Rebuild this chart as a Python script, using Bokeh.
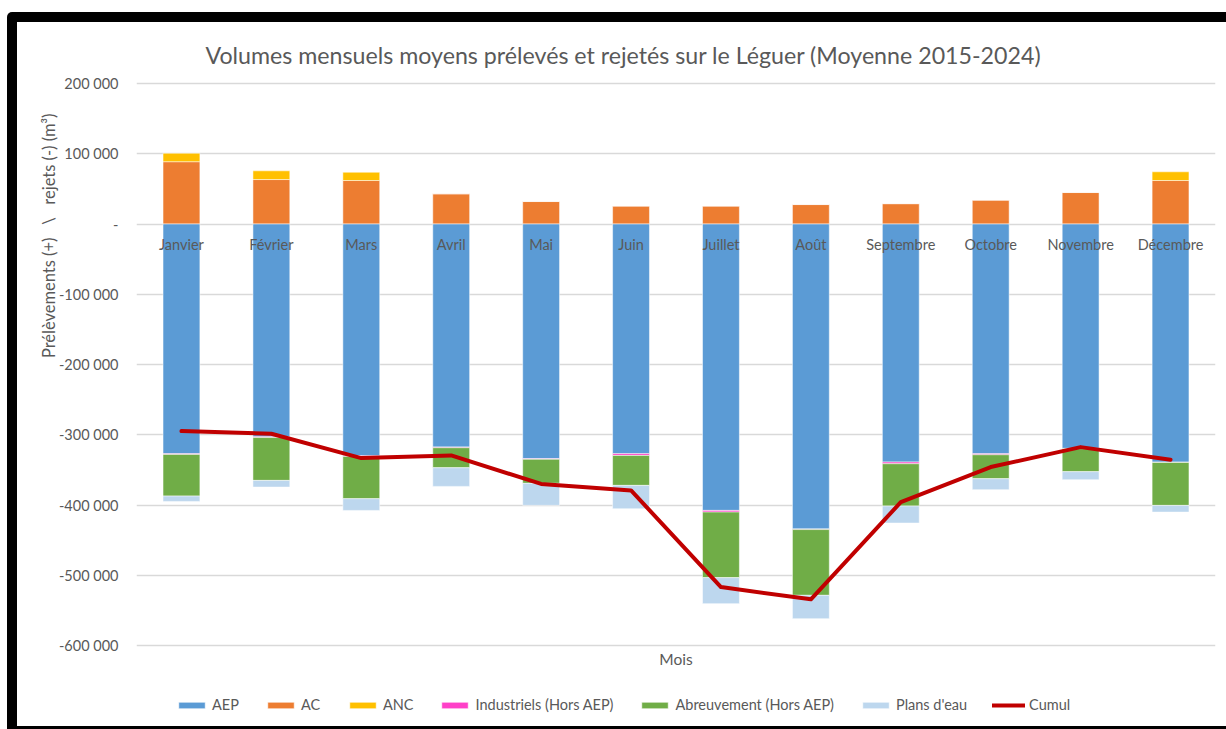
from bokeh.plotting import figure
from bokeh.models import (Range1d, Legend, LegendItem, Title, FixedTicker,
                          ColumnDataSource, Div, Label)
from bokeh.layouts import row, column
from bokeh.core.properties import value
from bokeh.embed import file_html
from bokeh.resources import INLINE

# ---------------- data (m3, mean 2015-2024) ----------------
months = ["Janvier", "Février", "Mars", "Avril", "Mai", "Juin", "Juillet",
          "Août", "Septembre", "Octobre", "Novembre", "Décembre"]
aep = [-327000, -303000, -330000, -317500, -334000, -327000, -407700,
       -434000, -338900, -327000, -319400, -339000]
ac = [88700, 63300, 61900, 43000, 32000, 25600, 25600, 27700, 29000,
      34000, 44800, 61900]
anc = [12000, 12400, 11800, 0, 0, 0, 0, 0, 0, 0, 0, 12400]
industriels = [-1000, -1000, -800, -1000, -1000, -2500, -2400, -1000,
               -2400, -1500, -500, -500]
abreuvement = [-59300, -61000, -60300, -28500, -34200, -42600, -93300,
               -93600, -60200, -34100, -32700, -61100]
plans_eau = [-7600, -9500, -16600, -26500, -31300, -33200, -37000, -33200,
             -24200, -15600, -11400, -9500]
cumul = [-294800, -298600, -333200, -329400, -370000, -379200, -516800,
         -534300, -396000, -346000, -317600, -335600]

y_ticks = [-600000, -500000, -400000, -300000, -200000, -100000, 0,
           100000, 200000]
y_tick_labels = ["-600 000", "-500 000", "-400 000", "-300 000", "-200 000",
                 "-100 000", "-", "100 000", "200 000"]

TITLE = "Volumes mensuels moyens prélevés et rejetés sur le Léguer  (Moyenne 2015-2024)"
Y_TITLE = "Prélèvements (+)\u00a0\u00a0\u00a0\\\u00a0\u00a0\u00a0rejets (-) (m³)"
X_TITLE = "Mois"

FONT = "Lato"
GREY = "#595959"

# ---------------- layout geometry (page pixels) ----------------
PAD_X, PAD_Y = 7, 12        # white gap before the black frame
BORDER, BORDER_B = 10, 3    # black frame thickness (left/top, bottom)
W = 1226 - PAD_X - BORDER   # canvas size
H = 729 - PAD_Y - BORDER - BORDER_B
CANVAS_TOP = PAD_Y + BORDER
LEFT, RIGHT = 119, 11       # plot area left / right margins
AXIS_TOP_PX, AXIS_BOTTOM_PX = 83, 645   # rows of 200 000 and -600 000
ypp = (y_ticks[-1] - y_ticks[0]) / (AXIS_BOTTOM_PX - AXIS_TOP_PX)


def y_at(px):
    """data value drawn at page pixel row px"""
    return y_ticks[-1] - (px - AXIS_TOP_PX) * ypp


# the plotting area spans the full canvas height
y_max = y_at(CANVAS_TOP)
y_min = y_at(CANVAS_TOP + H)

src = ColumnDataSource(dict(month=months, AEP=aep, AC=ac, ANC=anc,
                            IND=industriels, ABR=abreuvement, PLA=plans_eau,
                            CUM=cumul))

p = figure(x_range=months, y_range=Range1d(y_min, y_max),
           width=W, height=H, output_backend="svg",
           toolbar_location=None, x_axis_location=None,
           min_border_left=LEFT, min_border_right=RIGHT,
           min_border_top=0, min_border_bottom=0)
p.outline_line_color = None
p.background_fill_color = "white"
p.border_fill_color = "white"
p.margin = 0

pos = p.vbar_stack(["AC", "ANC"], x="month", width=0.41, source=src,
                   color=["#ED7D31", "#FFC000"], line_color="white",
                   line_alpha=0.5, line_width=1)
neg = p.vbar_stack(["AEP", "IND", "ABR", "PLA"], x="month", width=0.41,
                   source=src,
                   color=["#5B9BD5", "#FF40C8", "#70AD47", "#BDD7EE"],
                   line_color="white", line_alpha=0.5, line_width=1)
line = p.line(x="month", y="CUM", source=src, line_color="#C00000",
              line_width=4, line_cap="round", line_join="round")

# month labels sitting just under the zero line
p.text(x="month", y=value(0), text="month", source=src,
       text_font=value(FONT), text_font_size="14.5px", text_color=GREY,
       text_align="center", text_baseline="middle", y_offset=20)

# y axis
p.yaxis.ticker = FixedTicker(ticks=y_ticks)
p.yaxis.major_label_overrides = dict(zip(y_ticks, y_tick_labels))
p.yaxis.major_label_text_font = FONT
p.yaxis.major_label_text_font_size = "14.5px"
p.yaxis.major_label_text_color = GREY
p.yaxis.major_label_standoff = 12
p.yaxis.axis_line_color = None
p.yaxis.major_tick_line_color = None
p.yaxis.minor_tick_line_color = None

p.xgrid.grid_line_color = None
p.ygrid.grid_line_color = "#D9D9D9"
p.ygrid.grid_line_width = 1.3

# main title
p.add_layout(Label(x=69, x_units="screen", y=y_at(54.5), y_units="data",
                   text=TITLE, text_font=FONT, text_font_size="23.2px",
                   text_color=GREY, text_align="left",
                   text_baseline="alphabetic"))

# y axis title
p.add_layout(Title(text=Y_TITLE, text_font=FONT, text_font_size="16.5px",
                   text_font_style="normal", text_color=GREY,
                   align="right", offset=113 - CANVAS_TOP, standoff=-6),
             "left")

# x axis title, centred under the bars
p.add_layout(Label(x=(W - LEFT - RIGHT) / 2, x_units="screen", y=y_at(658),
                   y_units="data", text=X_TITLE, text_font=FONT,
                   text_font_size="15.5px", text_color=GREY,
                   text_align="center", text_baseline="middle"))

legend = Legend(items=[
    LegendItem(label="AEP", renderers=[neg[0]]),
    LegendItem(label="AC", renderers=[pos[0]]),
    LegendItem(label="ANC", renderers=[pos[1]]),
    LegendItem(label="Industriels (Hors AEP)", renderers=[neg[1]]),
    LegendItem(label="Abreuvement (Hors AEP)", renderers=[neg[2]]),
    LegendItem(label="Plans d'eau", renderers=[neg[3]]),
    LegendItem(label="Cumul", renderers=[line]),
], orientation="horizontal", location=(39, 13))
legend.label_text_font = FONT
legend.label_text_font_size = "14.5px"
legend.label_text_color = GREY
legend.glyph_width = 33
legend.glyph_height = 8
legend.label_standoff = 4
legend.spacing = 25
legend.padding = 0
legend.margin = 0
legend.border_line_color = None
legend.background_fill_alpha = 0
p.add_layout(legend, "center")

# black frame around the chart (as in the original screenshot)
def bar(w, h, color, **extra):
    return Div(text="", width=w, height=h, margin=0,
               styles={"background-color": color, **extra})

left_col = column(bar(BORDER, PAD_Y, "white"),
                  bar(BORDER, BORDER + H + BORDER_B, "black",
                      **{"border-top-left-radius": "5px"}),
                  spacing=0, margin=0)
right_col = column(bar(W, PAD_Y, "white"), bar(W, BORDER, "black"), p,
                   bar(W, BORDER_B, "black"), spacing=0, margin=0)
page = row(bar(PAD_X, 729, "white"), left_col, right_col, spacing=0,
           margin=0)

open("out.html", "w").write(file_html(page, INLINE))
